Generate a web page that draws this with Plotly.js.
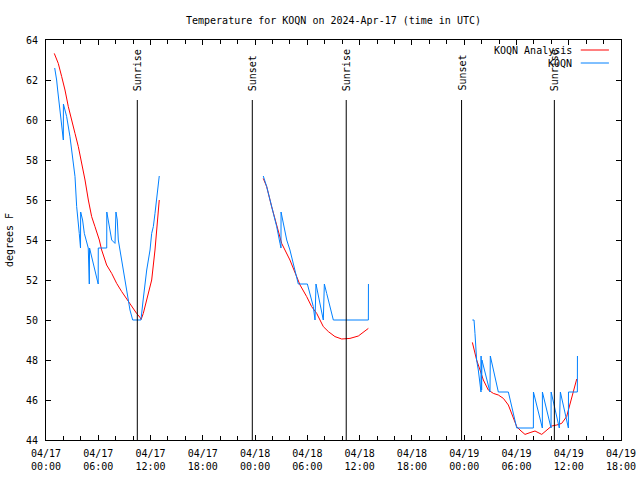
<!DOCTYPE html>
<html>
<head>
<meta charset="utf-8">
<script src="https://cdn.plot.ly/plotly-3.0.1.min.js"></script>
<style>html,body{margin:0;padding:0;background:#fff;}#chart{width:640px;height:480px;}</style>
</head>
<body>
<div id="chart"></div>
<script>
// Hours since 2024-04-17 00:00 UTC
const startDate = Date.UTC(2024, 3, 17, 0, 0);

// KOQN Analysis (red)
const redHours1 = [0.95,1.41,1.8,2.18,2.56,2.95,3.33,3.71,4.1,4.48,4.86,5.24,5.62,6.12,6.39,6.96,7.54,8.11,8.69,9.33,9.83,10.4,10.79,10.92,11.17,11.56,12.13,12.51,12.9,13.0];
const redTemps1 = [63.33,62.83,62.17,61.5,60.67,59.92,59.33,58.67,57.83,57.0,56.0,55.17,54.67,54.0,53.5,52.75,52.33,51.83,51.42,51.0,50.67,50.33,50.13,50.03,50.33,51.0,52.0,53.5,55.33,56.0];
const redHours2 = [24.94,25.33,25.9,26.48,27.05,28.0,28.58,29.16,29.92,30.49,31.07,31.83,32.41,33.17,33.94,34.89,35.85,36.42,37.0];
const redTemps2 = [57.08,56.67,55.67,54.75,53.83,53.0,52.33,51.75,51.17,50.67,50.33,49.67,49.42,49.17,49.05,49.08,49.2,49.37,49.58];
const redHours3 = [48.94,49.24,49.43,49.82,50.2,50.77,51.35,51.92,52.5,53.07,53.45,54.03,54.4,54.98,55.56,56.13,56.9,57.47,58.04,58.62,59.19,59.76,60.15,60.53,60.92];
const redTemps3 = [48.88,48.33,48.0,47.5,47.0,46.5,46.33,46.25,46.08,45.75,45.33,44.67,44.5,44.28,44.37,44.45,44.28,44.5,44.7,44.75,44.83,45.17,45.83,46.5,47.05];

// KOQN observations (blue)
const blueHours1 = [1.0,1.11,1.22,1.34,1.49,1.61,1.72,1.8,1.88,1.99,2.0,2.37,2.75,3.13,3.33,3.52,3.71,3.82,3.96,3.98,4.2,4.4,4.85,4.97,5.0,5.24,5.43,5.62,5.81,5.99,6.0,6.97,6.98,7.15,7.54,7.92,8.03,8.18,8.3,8.49,8.69,8.88,9.07,9.26,9.45,9.64,9.95,10.9,11.15,11.36,11.56,11.75,11.94,12.13,12.32,12.51,12.7,13.0];
const blueTemps1 = [62.6,62.33,62.0,61.5,60.9,60.67,60.17,59.67,59.33,59.0,60.8,60.17,59.17,58.0,57.17,55.67,55.0,54.33,53.6,55.4,55.0,54.33,53.6,51.8,53.6,53.17,52.83,52.5,52.17,51.8,53.6,53.6,55.4,55.0,54.0,53.83,55.4,55.0,54.0,53.5,53.0,52.5,52.0,51.5,51.0,50.5,50.0,50.0,51.0,51.83,52.5,53.0,53.5,54.33,54.67,55.33,56.17,57.2];
const blueHours2 = [24.94,25.33,26.1,26.48,26.86,26.97,26.98,27.24,27.63,28.0,28.39,28.77,28.96,30.0,30.3,30.68,30.88,30.99,31.83,31.95,32.22,32.6,32.98,37.0,37.01];
const blueTemps2 = [57.2,56.67,55.33,54.67,53.83,53.6,55.4,54.83,54.0,53.5,52.83,52.17,51.8,51.8,51.33,50.67,50.0,51.8,50.0,51.8,51.33,50.67,50.0,50.0,51.8];
const blueHours3 = [48.94,49.13,49.24,49.43,49.62,49.82,49.93,49.94,50.0,50.04,50.96,51.0,51.92,53.07,54.03,55.94,55.95,56.97,56.98,57.97,57.98,58.92,59.04,59.96,59.97,60.99,61.0];
const blueTemps3 = [50.0,50.0,49.33,48.0,47.5,46.67,46.4,48.2,46.5,48.0,46.4,48.2,46.4,46.4,44.6,44.6,46.4,44.6,46.4,44.6,46.4,44.6,46.4,44.6,46.4,46.4,48.2];

// Sun events (hours since start)
const eventHours = [10.48,23.68,34.46,47.70,58.35];
const eventLabels = ['Sunrise','Sunset','Sunrise','Sunset','Sunrise'];

// Axis ticks
const tickHours = [0,6,12,18,24,30,36,42,48,54,60,66];
const tickLabels = ['04/17<br>00:00','04/17<br>06:00','04/17<br>12:00','04/17<br>18:00',
                    '04/18<br>00:00','04/18<br>06:00','04/18<br>12:00','04/18<br>18:00',
                    '04/19<br>00:00','04/19<br>06:00','04/19<br>12:00','04/19<br>18:00'];

const toMs = h => startDate + h * 3600000;
function joinSegments(hoursList, tempsList) {
  const x = [], y = [];
  hoursList.forEach((hs, i) => {
    if (i > 0) { x.push(null); y.push(null); }
    hs.forEach((h, j) => { x.push(toMs(h)); y.push(tempsList[i][j]); });
  });
  return {x, y};
}
const red = joinSegments([redHours1, redHours2, redHours3], [redTemps1, redTemps2, redTemps3]);
const blue = joinSegments([blueHours1, blueHours2, blueHours3], [blueTemps1, blueTemps2, blueTemps3]);

const FONT = 'DejaVu Sans Mono';
const traces = [
  {x: red.x, y: red.y, type: 'scatter', mode: 'lines', name: 'KOQN Analysis',
   line: {color: '#ff0000', width: 1}, connectgaps: false, showlegend: false},
  {x: blue.x, y: blue.y, type: 'scatter', mode: 'lines', name: 'KOQN',
   line: {color: '#0080ff', width: 1}, connectgaps: false, showlegend: false}
];

const shapes = eventHours.map(h => ({
  type: 'line', xref: 'x', yref: 'y', x0: toMs(h), x1: toMs(h), y0: 44, y1: 61,
  line: {color: '#000', width: 1}
}));
// legend samples
shapes.push({type:'line', xref:'paper', yref:'paper', x0:0.930, x1:0.979, y0:0.975, y1:0.975, line:{color:'#ff0000', width:1}});
shapes.push({type:'line', xref:'paper', yref:'paper', x0:0.930, x1:0.979, y0:0.9425, y1:0.9425, line:{color:'#0080ff', width:1}});

const annotations = eventHours.map((h, i) => ({
  x: toMs(h), y: 61.35, xref: 'x', yref: 'y', text: eventLabels[i], textangle: -90,
  showarrow: false, xanchor: 'center', yanchor: 'bottom',
  font: {family: FONT, size: 10, color: '#000'}
}));
annotations.push({x:0.918, y:0.975, xref:'paper', yref:'paper', text:'KOQN Analysis', showarrow:false,
  xanchor:'right', yanchor:'middle', font:{family:FONT, size:10, color:'#000'}});
annotations.push({x:0.918, y:0.9425, xref:'paper', yref:'paper', text:'KOQN', showarrow:false,
  xanchor:'right', yanchor:'middle', font:{family:FONT, size:10, color:'#000'}});

const layout = {
  width: 640, height: 480,
  margin: {l: 46, r: 19, t: 40, b: 40, pad: 0},
  paper_bgcolor: '#fff', plot_bgcolor: '#fff',
  showlegend: false,
  title: {text: 'Temperature for KOQN on 2024-Apr-17 (time in UTC)', x: 0.5, xref: 'paper',
          y: 1 - 20/480, yref: 'container', yanchor: 'middle', font: {family: FONT, size: 10, color: '#000'}},
  xaxis: {
    type: 'date', range: [toMs(0), toMs(66)],
    tickmode: 'array', tickvals: tickHours.map(toMs), ticktext: tickLabels,
    ticks: 'inside', ticklen: 5, tickcolor: '#000', tickwidth: 1,
    showline: true, linecolor: '#000', linewidth: 1, mirror: 'ticks',
    showgrid: false, zeroline: false, ticklabelstandoff: 4,
    tickfont: {family: FONT, size: 10, color: '#000'},
    minor: {dtick: 7200000, tick0: toMs(0), ticks: 'inside', ticklen: 4, tickcolor: '#000', showgrid: false}
  },
  yaxis: {
    range: [44, 64], tickmode: 'linear', tick0: 44, dtick: 2,
    ticks: 'inside', ticklen: 5, tickcolor: '#000', tickwidth: 1,
    showline: true, linecolor: '#000', linewidth: 1, mirror: 'ticks',
    showgrid: false, zeroline: false, ticklabelstandoff: 5,
    tickfont: {family: FONT, size: 10, color: '#000'},
    title: {text: 'degrees F', font: {family: FONT, size: 10, color: '#000'}, standoff: 10}
  },
  shapes: shapes,
  annotations: annotations
};

Plotly.newPlot('chart', traces, layout, {staticPlot: true, displayModeBar: false});
</script>
</body>
</html>
